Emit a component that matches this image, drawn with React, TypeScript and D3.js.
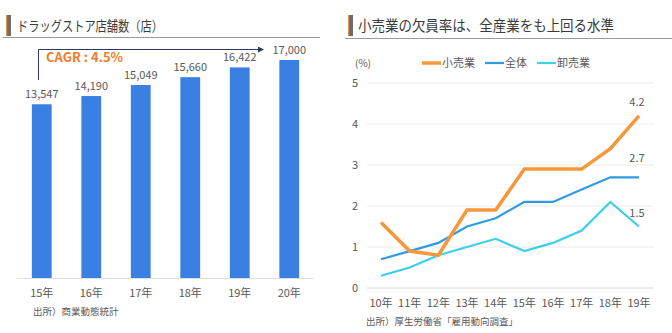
import React from "react";
import * as d3 from "d3";

const storeYears = ["15年", "16年", "17年", "18年", "19年", "20年"];
const storeCounts = [13547, 14190, 15049, 15660, 16422, 17000];

const rateYears = ["10年", "11年", "12年", "13年", "14年", "15年", "16年", "17年", "18年", "19年"];
const retailRate = [1.6, 0.9, 0.8, 1.9, 1.9, 2.9, 2.9, 2.9, 3.4, 4.2];
const allRate = [0.7, 0.9, 1.1, 1.5, 1.7, 2.1, 2.1, 2.4, 2.7, 2.7];
const wholesaleRate = [0.3, 0.5, 0.8, 1.0, 1.2, 0.9, 1.1, 1.4, 2.1, 1.5];
const rateTicks = [0, 1, 2, 3, 4, 5];

const seriesNames = ["小売業", "全体", "卸売業"];
const seriesColors = ["#f7963a", "#2f9be3", "#3ccfe9"];

const FONT = "'Noto Sans CJK JP', 'Noto Sans', sans-serif";
const TEXT = "#595959";

export default function App() {
  // Left chart
  const xL = d3.scaleBand<string>().domain(storeYears).range([17, 314]).paddingInner(0.6).paddingOuter(0.3);
  const yL = d3.scaleLinear().domain([0, 17000]).range([278, 60]);

  // Right chart
  const xR = d3.scalePoint<string>().domain(rateYears).range([381, 639]);
  const yR = d3.scaleLinear().domain([0, 5]).range([288, 83]);
  const line = d3
    .line<number>()
    .x((_, i) => xR(rateYears[i]) as number)
    .y((d) => yR(d));
  const series = [retailRate, allRate, wholesaleRate];
  const widths = [3.5, 2.2, 2.2];

  const legendX = [422, 485, 537];

  return (
    <svg width={672} height={333} style={{ position: "absolute", left: 0, top: 0, background: "#fff" }} fontFamily={FONT}>
      {/* Left title */}
      <rect x={6} y={15} width={5} height={21} fill="#7a6a62" />
      <rect x={6} y={15} width={1.2} height={21} fill="#e0904a" />
      <text x={17} y={31} fontSize={14} fill="#3a3a3a" textLength={146} lengthAdjust="spacingAndGlyphs">ドラッグストア店舗数（店）</text>
      <line x1={3} x2={320} y1={37.5} y2={37.5} stroke="#9a9a9a" strokeWidth={1.2} />

      {/* CAGR arrow */}
      <defs>
        <marker id="arr" markerWidth={6} markerHeight={6} refX={5} refY={3} orient="auto" markerUnits="userSpaceOnUse">
          <path d="M0,0 L6,3 L0,6 Z" fill="#2b3a5e" />
        </marker>
      </defs>
      <path d="M38.5,80 L38.5,49.5 L263,49.5" fill="none" stroke="#2b3a5e" strokeWidth={1} markerEnd="url(#arr)" />
      <text x={46} y={62} fontSize={13} fontWeight="bold" fill="#f07c2a">CAGR : 4.5%</text>

      {/* Bars */}
      <line x1={17} x2={314} y1={278.5} y2={278.5} stroke="#e0e0e0" />
      {storeCounts.map((v, i) => {
        const x = xL(storeYears[i]) as number;
        const w = xL.bandwidth();
        return (
          <g key={i}>
            <rect x={x} y={yL(v)} width={w} height={278 - yL(v)} fill="#3a80e2" />
            <text x={x + w / 2} y={yL(v) - 6} fontSize={11} fill={TEXT} textAnchor="middle">
              {d3.format(",")(v)}
            </text>
            <text x={x + w / 2} y={297} fontSize={11} fill={TEXT} textAnchor="middle">{storeYears[i]}</text>
          </g>
        );
      })}
      <text x={33} y={315} fontSize={9.5} fill={TEXT}>出所）商業動態統計</text>

      {/* Right title */}
      <rect x={348} y={15} width={5} height={21} fill="#6b6b6b" />
      <rect x={348} y={15} width={1.2} height={21} fill="#e0904a" />
      <text x={358} y={31} fontSize={14.5} fill="#3a3a3a" textLength={256} lengthAdjust="spacingAndGlyphs">小売業の欠員率は、全産業をも上回る水準</text>
      <line x1={345} x2={672} y1={38.5} y2={38.5} stroke="#9a9a9a" strokeWidth={1.2} />

      {/* Legend */}
      <text x={355} y={67} fontSize={10} fill={TEXT}>(%)</text>
      {seriesNames.map((n, i) => (
        <g key={n}>
          <line x1={legendX[i]} x2={legendX[i] + 19} y1={63} y2={63} stroke={seriesColors[i]} strokeWidth={i === 0 ? 3.5 : 2.2} />
          <text x={legendX[i] + 20} y={67} fontSize={11} fill={TEXT}>{n}</text>
        </g>
      ))}

      {/* Grid */}
      {rateTicks.map((t) => (
        <g key={t}>
          <line x1={367} x2={654} y1={yR(t)} y2={yR(t)} stroke={t === 0 ? "#d8d8d8" : "#ebebeb"} />
          <text x={355} y={yR(t) + 4} fontSize={11} fill={TEXT} textAnchor="middle">{t}</text>
        </g>
      ))}
      {rateYears.map((y) => (
        <text key={y} x={xR(y)} y={307} fontSize={11} fill={TEXT} textAnchor="middle">{y}</text>
      ))}

      {/* Lines */}
      {[2, 1, 0].map((i) => (
        <path key={i} d={line(series[i]) as string} fill="none" stroke={seriesColors[i]} strokeWidth={widths[i]} strokeLinejoin="miter" />
      ))}

      {/* End labels */}
      {series.map((s, i) => (
        <text key={i} x={(xR(rateYears[9]) as number) - 2} y={yR(s[9]) - 10 - (i === 1 ? 5 : 0)} fontSize={11} fill={TEXT} textAnchor="middle">
          {d3.format(".1f")(s[9])}
        </text>
      ))}

      <text x={366} y={325} fontSize={9.5} fill={TEXT}>出所）厚生労働省「雇用動向調査」</text>
    </svg>
  );
}
